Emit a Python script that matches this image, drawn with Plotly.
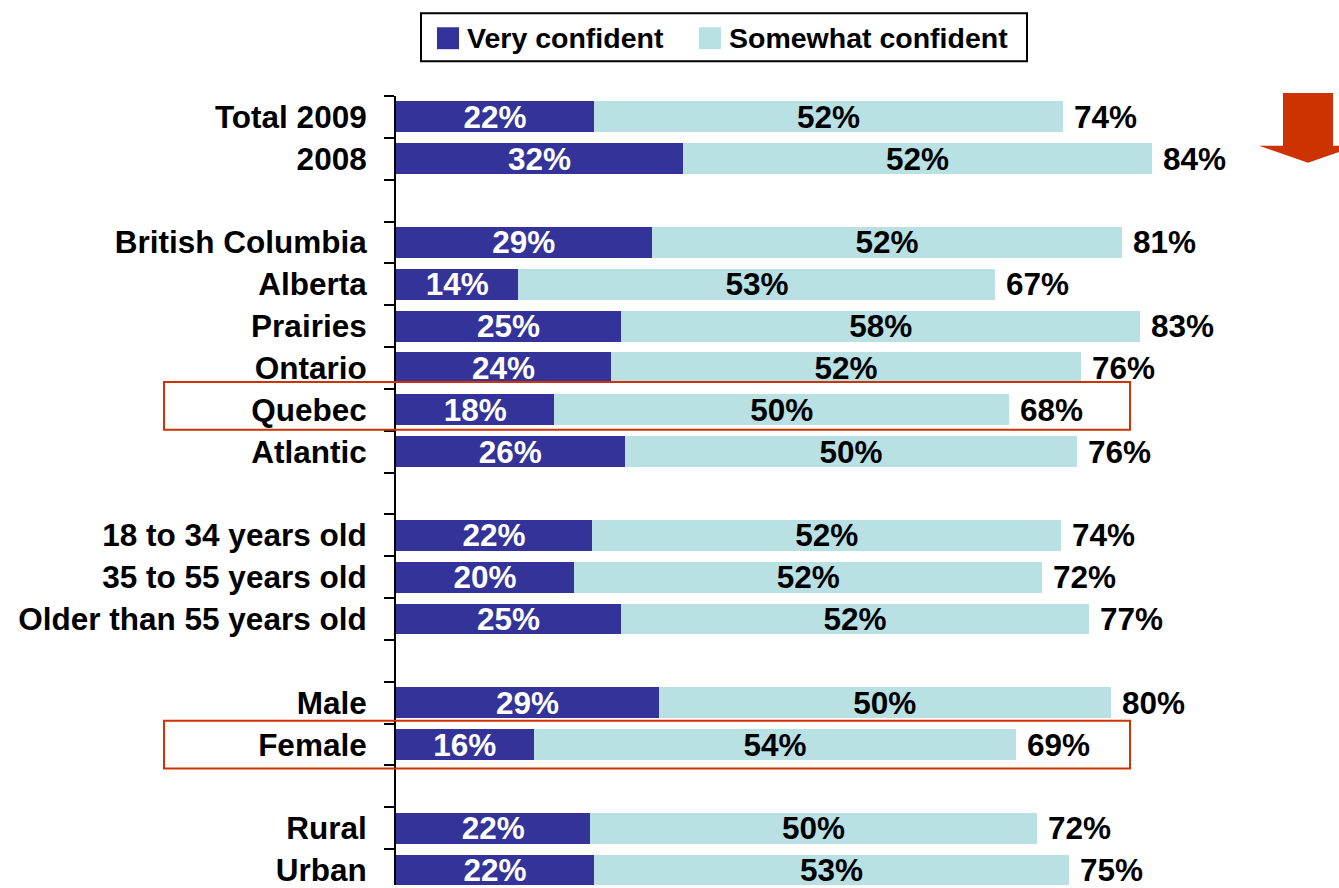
import plotly.graph_objects as go

# ---- data ----
rows = ["Total 2009", "2008", " ",
        "British Columbia", "Alberta", "Prairies", "Ontario", "Quebec", "Atlantic", "  ",
        "18 to 34 years old", "35 to 55 years old", "Older than 55 years old", "   ",
        "Male", "Female", "    ",
        "Rural", "Urban"]

categories = ["Total 2009", "2008",
              "British Columbia", "Alberta", "Prairies", "Ontario", "Quebec", "Atlantic",
              "18 to 34 years old", "35 to 55 years old", "Older than 55 years old",
              "Male", "Female",
              "Rural", "Urban"]

very_confident = [22.0, 31.9, 28.4, 13.6, 25.0, 23.9, 17.6, 25.4, 21.8, 19.8, 25.0, 29.2, 15.3, 21.6, 22.0]
somewhat_confident = [52.1, 52.1, 52.3, 53.0, 57.7, 52.2, 50.5, 50.3, 52.1, 52.0, 52.0, 50.2, 53.6, 49.6, 52.8]

very_labels = [22, 32, 29, 14, 25, 24, 18, 26, 22, 20, 25, 29, 16, 22, 22]
somewhat_labels = [52, 52, 52, 53, 58, 52, 50, 50, 52, 52, 52, 50, 54, 50, 53]
total_labels = [74, 84, 81, 67, 83, 76, 68, 76, 74, 72, 77, 80, 69, 72, 75]

highlighted = ["Quebec", "Female"]

# ---- style ----
DARK = "#333399"
LIGHT = "#B9E0E3"
RED = "#CC3300"
FONT = "Liberation Sans, Arial, sans-serif"
FS = 31.5

W, H = 1339, 888
ML, MT = 396, 96
PW, PH = W - ML, H - MT


def px_x(px):
    return (px - ML) / PW


def px_y(py):
    return (H - py) / PH


fig = go.Figure()
fig.add_trace(go.Bar(
    y=categories, x=very_confident, orientation="h", name="Very confident",
    marker=dict(color=DARK, line=dict(width=0)), width=0.74,
    text=[f"{v}%" for v in very_labels], textposition="inside",
    insidetextanchor="middle", constraintext="none", textangle=0,
    textfont=dict(family=FONT, size=FS, color="white", weight="bold"),
    showlegend=False, hoverinfo="skip"))
fig.add_trace(go.Bar(
    y=categories, x=somewhat_confident, orientation="h", name="Somewhat confident",
    marker=dict(color=LIGHT, line=dict(width=0)), width=0.74,
    text=[f"{v}%" for v in somewhat_labels], textposition="inside",
    insidetextanchor="middle", constraintext="none", textangle=0,
    textfont=dict(family=FONT, size=FS, color="black", weight="bold"),
    showlegend=False, hoverinfo="skip"))

# totals to the right of each bar
for cat, v, s, t in zip(categories, very_confident, somewhat_confident, total_labels):
    fig.add_annotation(x=v + s, y=rows.index(cat), xref="x", yref="y", text=f"{t}%",
                       showarrow=False, xanchor="left", yanchor="middle", xshift=9,
                       font=dict(family=FONT, size=FS, color="black", weight="bold"))

shapes = []
# highlight boxes
for cat, (top, bot) in zip(highlighted, [(383, 431), (723, 771)]):
    shapes.append(dict(type="rect", xref="paper", yref="paper",
                       x0=px_x(164), x1=px_x(1130), y0=px_y(bot), y1=px_y(top),
                       line=dict(color=RED, width=2), fillcolor="rgba(0,0,0,0)"))

# down arrow
pts = [(1283, 93), (1333, 93), (1333, 146), (1357, 146), (1308, 163), (1259, 146), (1283, 146)]
path = "M " + " L ".join(f"{px_x(x)},{px_y(y)}" for x, y in pts) + " Z"
shapes.append(dict(type="path", xref="paper", yref="paper", path=path,
                   fillcolor=RED, line=dict(width=0)))

# legend box
shapes.append(dict(type="rect", xref="paper", yref="paper",
                   x0=px_x(421), x1=px_x(1027), y0=px_y(61), y1=px_y(13),
                   line=dict(color="black", width=2), fillcolor="white"))
shapes.append(dict(type="rect", xref="paper", yref="paper",
                   x0=px_x(437), x1=px_x(459), y0=px_y(49), y1=px_y(27),
                   line=dict(width=0), fillcolor=DARK))
shapes.append(dict(type="rect", xref="paper", yref="paper",
                   x0=px_x(699), x1=px_x(721), y0=px_y(49), y1=px_y(27),
                   line=dict(width=0), fillcolor=LIGHT))
fig.add_annotation(xref="paper", yref="paper", x=px_x(465), y=px_y(38),
                   text="Very confident", showarrow=False, xanchor="left", yanchor="middle",
                   font=dict(family=FONT, size=28.5, color="black", weight="bold"))
fig.add_annotation(xref="paper", yref="paper", x=px_x(727), y=px_y(38),
                   text="Somewhat confident", showarrow=False, xanchor="left", yanchor="middle",
                   font=dict(family=FONT, size=28.5, color="black", weight="bold"))

fig.update_layout(
    width=W, height=H,
    margin=dict(l=ML, r=0, t=MT, b=0, pad=0),
    barmode="stack",
    plot_bgcolor="white", paper_bgcolor="white",
    shapes=shapes,
    xaxis=dict(range=[0, PW / 9.0], visible=False, fixedrange=True),
    yaxis=dict(type="category", categoryorder="array", categoryarray=rows,
               range=[(H - MT) / 42.0 - 0.5, -0.5], fixedrange=True,
               tickson="boundaries", ticks="outside", ticklen=10, tickwidth=2,
               tickcolor="black", showline=True, linecolor="black", linewidth=2,
               showgrid=False, zeroline=False, ticklabelstandoff=21,
               tickfont=dict(family=FONT, size=FS, color="black", weight="bold")),
)

fig.write_html(
    "out.html",
    config={"displayModeBar": False, "staticPlot": True},
    post_script="document.body.style.margin='0';document.body.style.overflow='hidden';",
)
